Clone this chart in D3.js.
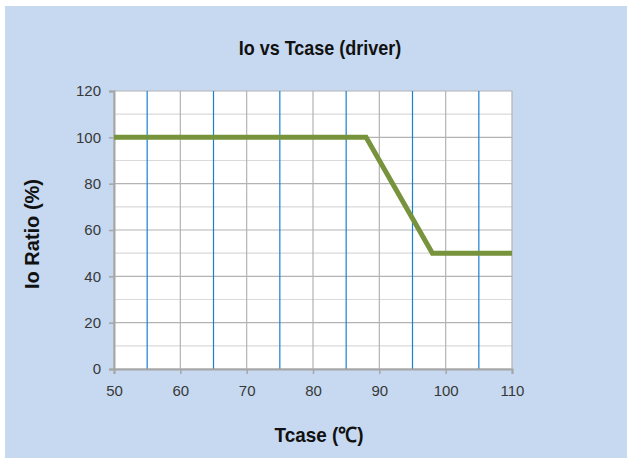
<!DOCTYPE html>
<html><head><meta charset="utf-8">
<script src="https://cdn.jsdelivr.net/npm/d3@7"></script>
<style>body{margin:0;background:#fff}svg{display:block}</style>
</head><body>
<script>
const tempC = [50, 88, 98, 110];
const ioRatio = [100, 100, 50, 50];
const xTicks = [50, 60, 70, 80, 90, 100, 110];
const xMinorTicks = [55, 65, 75, 85, 95, 105];
const yTicks = [0, 20, 40, 60, 80, 100, 120];
const yMinorTicks = [10, 30, 50, 70, 90, 110];

const W = 627, H = 458;
const svg = d3.select("body").append("svg").attr("width", W).attr("height", H);
svg.append("rect").attr("x", 5).attr("y", 6).attr("width", W - 5).attr("height", H - 6).attr("fill", "#c6d9f0");

const L = 114, R = 512, T = 91, B = 369;
const x = d3.scaleLinear().domain([50, 110]).range([L, R]);
const y = d3.scaleLinear().domain([0, 120]).range([B, T]);

svg.append("rect").attr("x", L).attr("y", T).attr("width", R - L).attr("height", B - T).attr("fill", "#fff");

const g = svg.append("g");
g.selectAll(".hm").data(yMinorTicks).join("line")
  .attr("x1", L).attr("x2", R).attr("y1", d => y(d)).attr("y2", d => y(d))
  .attr("stroke", "#d9d9d9").attr("stroke-width", 1.2);
g.selectAll(".hM").data(yTicks).join("line")
  .attr("x1", L).attr("x2", R).attr("y1", d => y(d)).attr("y2", d => y(d))
  .attr("stroke", "#b3b3b3").attr("stroke-width", 1.2);
g.selectAll(".vM").data(xTicks).join("line")
  .attr("y1", T).attr("y2", B).attr("x1", d => x(d)).attr("x2", d => x(d))
  .attr("stroke", "#b3b3b3").attr("stroke-width", 1.2);
g.selectAll(".vm").data(xMinorTicks).join("line")
  .attr("y1", T).attr("y2", B).attr("x1", d => x(d)).attr("x2", d => x(d))
  .attr("stroke", "#1a7fd0").attr("stroke-width", 1.2);

const xAxis = svg.append("g").attr("transform", `translate(0,${B})`)
  .call(d3.axisBottom(x).tickValues(xTicks).tickSize(5).tickPadding(11));
const yAxis = svg.append("g").attr("transform", `translate(${L},0)`)
  .call(d3.axisLeft(y).tickValues(yTicks).tickSize(5).tickPadding(8));
[xAxis, yAxis].forEach(a => {
  a.select(".domain").attr("stroke", "#a6a6a6").attr("stroke-width", 2);
  a.selectAll(".tick line").attr("stroke", "#a6a6a6").attr("stroke-width", 1.5);
  a.selectAll("text").attr("font-family", "Liberation Sans, Arial, sans-serif").attr("font-size", 15).attr("fill", "#383838");
});

const pts = tempC.map((t, i) => [t, ioRatio[i]]);
svg.append("path").datum(pts)
  .attr("d", d3.line().x(d => x(d[0])).y(d => y(d[1])))
  .attr("fill", "none").attr("stroke", "#77933c").attr("stroke-width", 5).attr("stroke-linejoin", "miter");

const bold = "'Liberation Sans', Arial, sans-serif";
svg.append("text").attr("transform", "translate(320,55) scale(0.9,1)").attr("text-anchor", "middle")
  .attr("font-family", bold).attr("font-weight", "bold").attr("font-size", 20).attr("fill", "#111")
  .text("Io vs Tcase (driver)");
svg.append("text").attr("transform", "translate(319,442) scale(0.9,1)").attr("text-anchor", "middle")
  .attr("font-family", bold).attr("font-weight", "bold").attr("font-size", 21).attr("fill", "#111")
  .text("Tcase (℃)");
svg.append("text").attr("transform", "translate(39,234) rotate(-90)").attr("text-anchor", "middle")
  .attr("font-family", bold).attr("font-weight", "bold").attr("font-size", 20).attr("fill", "#111")
  .text("Io Ratio (%)");
</script>
</body></html>
